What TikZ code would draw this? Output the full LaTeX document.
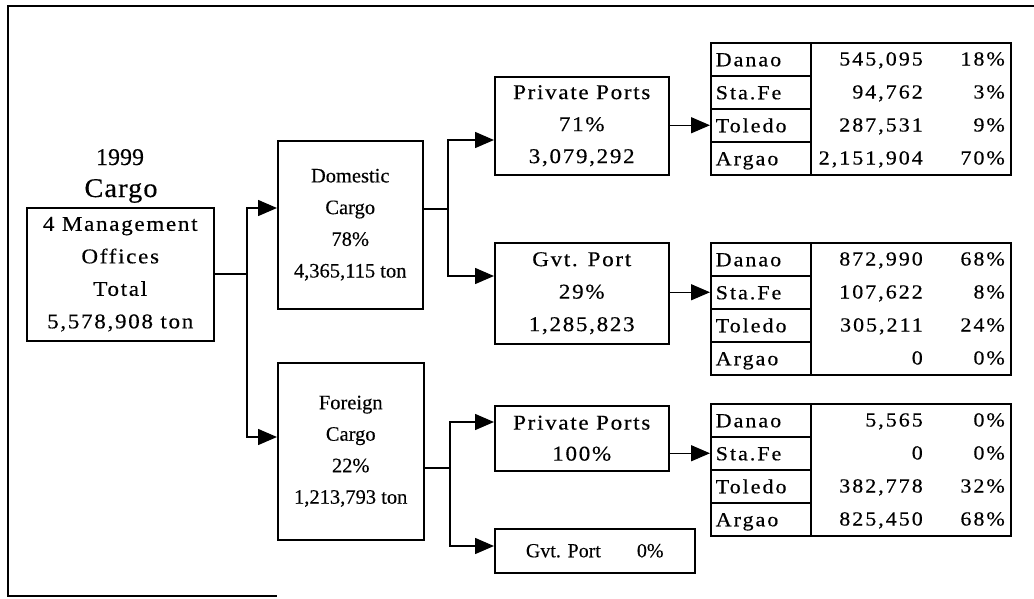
\documentclass[tikz,border=0pt]{standalone}
\usepackage{fontspec}
\setmainfont{Liberation Serif}
\newfontfamily\spacedA[LetterSpace=8,FakeStretch=1.1,FakeBold=0.4]{Liberation Serif}
\newfontfamily\spacedT[LetterSpace=10,FakeStretch=1.1,FakeBold=0.4]{Liberation Serif}
\newfontfamily\spacedC[LetterSpace=4,FakeStretch=1.05,FakeBold=0.4]{Liberation Serif}
\newfontfamily\plainB[FakeBold=0.3]{Liberation Serif}
\usetikzlibrary{arrows.meta}
\newcommand\tfont{\fontsize{20}{22}\spacedT}
\newcommand\trow[5]{%
  \node[cellname] (#1n) at (710,#2) {#3};
  \node[valtext] (#1v) at (923,#2+23.5) {#4};
  \node[valtext] (#1p) at (1005,#2+23.5) {#5};
}
\begin{document}
\begin{tikzpicture}[x=1pt,y=-1pt,
  box/.style={draw, line width=1.5pt, inner sep=0pt, align=center, anchor=north west},
  conn/.style={line width=1.5pt},
  arr/.style={conn, -{Triangle[length=19pt,width=16pt]}},
  cellname/.style={draw, line width=1.5pt, anchor=north west, minimum height=33pt,
    text width=90pt, inner xsep=5pt, inner ysep=0pt, text height=14pt, text depth=0pt,
    align=left, font=\tfont},
  valtext/.style={anchor=base east, inner sep=0pt, font=\tfont},
  frameline/.style={line width=1.5pt}
]
\useasboundingbox (0,0) rectangle (1034,598);

% outer frame (as scanned)
\coordinate (fTR) at (1034,6);
\coordinate (fTL) at (8,6);
\coordinate (fBL) at (8,596);
\coordinate (fBR) at (277,596);
\draw[frameline] (fTR) -- (fTL) -- (fBL) -- (fBR);

% title
\node[anchor=base, inner sep=0pt, font=\fontsize{24}{26}\plainB] (yr) at (120,165) {1999};
\node[anchor=base, inner sep=0pt, font=\fontsize{27}{30}\spacedC] (cg) at (121,197) {Cargo};

% main box
\node[box, minimum width=187pt, minimum height=133pt, font=\fontsize{21}{32.5}\spacedA] (main) at (26,207)
  {4 Management\\Offices\\Total\\5,578,908 ton};

% second level
\node[box, minimum width=145pt, minimum height=168pt, font=\fontsize{20.5}{31.7}\plainB] (dom) at (277,140)
  {Domestic\\Cargo\\78\%\\4,365,115 ton};
\node[box, minimum width=146pt, minimum height=177pt, font=\fontsize{20.5}{31.5}\plainB] (fore) at (277,362)
  {Foreign\\Cargo\\22\%\\1,213,793 ton};

% third level
\node[box, minimum width=174pt, minimum height=98pt, font=\fontsize{21}{32}\spacedA] (pp1) at (494,76)
  {Private Ports\\71\%\\3,079,292};
\node[box, minimum width=174pt, minimum height=101pt, font=\fontsize{21}{32.5}\spacedA] (gv1) at (494,242)
  {Gvt. Port\\29\%\\1,285,823};
\node[box, minimum width=174pt, minimum height=65pt, font=\fontsize{21}{31}\spacedA] (pp2) at (494,405)
  {Private Ports\\100\%};
\node[box, minimum width=200pt, minimum height=44pt, font=\fontsize{20}{24}\plainB] (gv2) at (494,528)
  {Gvt. Port\hspace{36pt}0\%};

% tables
\node[box, minimum width=300pt, minimum height=132pt] (tab1) at (710,42) {};
\trow{t1a}{42}{Danao}{545,095}{18\%}
\trow{t1b}{75}{Sta.Fe}{94,762}{3\%}
\trow{t1c}{108}{Toledo}{287,531}{9\%}
\trow{t1d}{141}{Argao}{2,151,904}{70\%}

\node[box, minimum width=300pt, minimum height=132pt] (tab2) at (710,242) {};
\trow{t2a}{242}{Danao}{872,990}{68\%}
\trow{t2b}{275}{Sta.Fe}{107,622}{8\%}
\trow{t2c}{308}{Toledo}{305,211}{24\%}
\trow{t2d}{341}{Argao}{0}{0\%}

\node[box, minimum width=300pt, minimum height=132pt] (tab3) at (710,403) {};
\trow{t3a}{403}{Danao}{5,565}{0\%}
\trow{t3b}{436}{Sta.Fe}{0}{0\%}
\trow{t3c}{469}{Toledo}{382,778}{32\%}
\trow{t3d}{502}{Argao}{825,450}{68\%}

% connectors level 1
\coordinate (jA) at (247,274);
\coordinate (dIn) at (277,208);
\coordinate (fIn) at (277,437);
\draw[conn] (main.east |- jA) -- (jA);
\draw[arr] (jA) |- (dIn);
\draw[arr] (jA) |- (fIn);

% connectors from domestic
\coordinate (jB) at (448,209);
\coordinate (p1In) at (494,140);
\coordinate (g1In) at (494,276);
\draw[conn] (dom.east |- jB) -- (jB);
\draw[arr] (jB) |- (p1In);
\draw[arr] (jB) |- (g1In);

% connectors from foreign
\coordinate (jC) at (450,468);
\coordinate (p2In) at (494,422);
\coordinate (g2In) at (494,546);
\draw[conn] (fore.east |- jC) -- (jC);
\draw[arr] (jC) |- (p2In);
\draw[arr] (jC) |- (g2In);

% into tables
\draw[arr] (pp1.east |- t1cn.west) -- (t1cn.west);
\draw[arr] (gv1.east |- t2bn.west) -- (t2bn.west);
\draw[arr] (pp2.east |- t3bn.west) -- (t3bn.west);
\end{tikzpicture}
\end{document}
